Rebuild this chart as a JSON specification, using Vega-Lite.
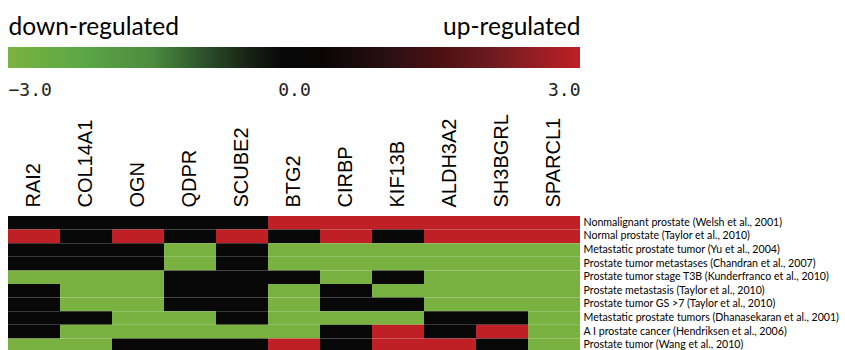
{
  "$schema": "https://vega.github.io/schema/vega-lite/v6.json",
  "padding": {"left": 8, "top": 14, "right": 0, "bottom": 0},
  "background": "white",
  "config": {"view": {"stroke": null}},
  "spacing": 14,
  "vconcat": [
    {
      "width": 572,
      "height": 21,
      "data": {"values": [{"lo": -3, "hi": 3}]},
      "layer": [
        {
          "mark": {
            "type": "rect",
            "fill": {
              "gradient": "linear", "x1": 0, "x2": 1, "y1": 0, "y2": 0,
              "stops": [
                {"offset": 0, "color": "#7BB340"},
                {"offset": 0.12, "color": "#5DA946"},
                {"offset": 0.25, "color": "#4C8C40"},
                {"offset": 0.33, "color": "#30592D"},
                {"offset": 0.41, "color": "#1A2818"},
                {"offset": 0.48, "color": "#080808"},
                {"offset": 0.55, "color": "#0A0505"},
                {"offset": 0.67, "color": "#2B1012"},
                {"offset": 0.75, "color": "#4A1012"},
                {"offset": 0.85, "color": "#6E1C20"},
                {"offset": 1, "color": "#BE2026"}
              ]
            }
          },
          "encoding": {
            "x": {
              "field": "lo", "type": "quantitative",
              "scale": {"domain": [-3, 3], "nice": false, "zero": false},
              "axis": {
                "orient": "bottom", "values": [-3, 0, 3], "format": ".1f",
                "labelFont": "DejaVu Sans Mono", "labelFontSize": 18, "labelColor": "#222222",
                "labelPadding": 13, "ticks": false, "domain": false, "grid": false,
                "labelFlush": true, "title": null
              }
            },
            "x2": {"field": "hi"},
            "y": {"datum": 0, "type": "quantitative", "scale": {"domain": [0, 1], "nice": false}, "axis": null},
            "y2": {"datum": 1}
          }
        },
        {
          "mark": {"type": "rect", "opacity": 0},
          "encoding": {
            "x": {
              "field": "lo", "type": "quantitative",
              "axis": {
                "orient": "top", "values": [-3, 3],
                "labelExpr": "datum.value < 0 ? 'down-regulated' : 'up-regulated'",
                "labelFont": "Lato", "labelFontSize": 24.5, "labelColor": "black",
                "labelPadding": 7.5, "ticks": false, "domain": false, "grid": false,
                "labelFlush": true, "title": null
              }
            },
            "x2": {"field": "hi"},
            "y": {"datum": 0, "type": "quantitative"},
            "y2": {"datum": 1}
          }
        }
      ],
      "resolve": {"axis": {"x": "independent"}}
    },
    {
      "width": 572,
      "height": 136,
      "data": {"values": [
        {"gene": "RAI2", "study": "Nonmalignant prostate (Welsh et al., 2001)", "value": 0},
        {"gene": "COL14A1", "study": "Nonmalignant prostate (Welsh et al., 2001)", "value": 0},
        {"gene": "OGN", "study": "Nonmalignant prostate (Welsh et al., 2001)", "value": 0},
        {"gene": "QDPR", "study": "Nonmalignant prostate (Welsh et al., 2001)", "value": 0},
        {"gene": "SCUBE2", "study": "Nonmalignant prostate (Welsh et al., 2001)", "value": 0},
        {"gene": "BTG2", "study": "Nonmalignant prostate (Welsh et al., 2001)", "value": 3},
        {"gene": "CIRBP", "study": "Nonmalignant prostate (Welsh et al., 2001)", "value": 3},
        {"gene": "KIF13B", "study": "Nonmalignant prostate (Welsh et al., 2001)", "value": 3},
        {"gene": "ALDH3A2", "study": "Nonmalignant prostate (Welsh et al., 2001)", "value": 3},
        {"gene": "SH3BGRL", "study": "Nonmalignant prostate (Welsh et al., 2001)", "value": 3},
        {"gene": "SPARCL1", "study": "Nonmalignant prostate (Welsh et al., 2001)", "value": 3},

        {"gene": "RAI2", "study": "Normal prostate (Taylor et al., 2010)", "value": 3},
        {"gene": "COL14A1", "study": "Normal prostate (Taylor et al., 2010)", "value": 0},
        {"gene": "OGN", "study": "Normal prostate (Taylor et al., 2010)", "value": 3},
        {"gene": "QDPR", "study": "Normal prostate (Taylor et al., 2010)", "value": 0},
        {"gene": "SCUBE2", "study": "Normal prostate (Taylor et al., 2010)", "value": 3},
        {"gene": "BTG2", "study": "Normal prostate (Taylor et al., 2010)", "value": 0},
        {"gene": "CIRBP", "study": "Normal prostate (Taylor et al., 2010)", "value": 3},
        {"gene": "KIF13B", "study": "Normal prostate (Taylor et al., 2010)", "value": 0},
        {"gene": "ALDH3A2", "study": "Normal prostate (Taylor et al., 2010)", "value": 3},
        {"gene": "SH3BGRL", "study": "Normal prostate (Taylor et al., 2010)", "value": 3},
        {"gene": "SPARCL1", "study": "Normal prostate (Taylor et al., 2010)", "value": 3},

        {"gene": "RAI2", "study": "Metastatic prostate tumor (Yu et al., 2004)", "value": 0},
        {"gene": "COL14A1", "study": "Metastatic prostate tumor (Yu et al., 2004)", "value": 0},
        {"gene": "OGN", "study": "Metastatic prostate tumor (Yu et al., 2004)", "value": 0},
        {"gene": "QDPR", "study": "Metastatic prostate tumor (Yu et al., 2004)", "value": -3},
        {"gene": "SCUBE2", "study": "Metastatic prostate tumor (Yu et al., 2004)", "value": 0},
        {"gene": "BTG2", "study": "Metastatic prostate tumor (Yu et al., 2004)", "value": -3},
        {"gene": "CIRBP", "study": "Metastatic prostate tumor (Yu et al., 2004)", "value": -3},
        {"gene": "KIF13B", "study": "Metastatic prostate tumor (Yu et al., 2004)", "value": -3},
        {"gene": "ALDH3A2", "study": "Metastatic prostate tumor (Yu et al., 2004)", "value": -3},
        {"gene": "SH3BGRL", "study": "Metastatic prostate tumor (Yu et al., 2004)", "value": -3},
        {"gene": "SPARCL1", "study": "Metastatic prostate tumor (Yu et al., 2004)", "value": -3},

        {"gene": "RAI2", "study": "Prostate tumor metastases (Chandran et al., 2007)", "value": 0},
        {"gene": "COL14A1", "study": "Prostate tumor metastases (Chandran et al., 2007)", "value": 0},
        {"gene": "OGN", "study": "Prostate tumor metastases (Chandran et al., 2007)", "value": 0},
        {"gene": "QDPR", "study": "Prostate tumor metastases (Chandran et al., 2007)", "value": -3},
        {"gene": "SCUBE2", "study": "Prostate tumor metastases (Chandran et al., 2007)", "value": 0},
        {"gene": "BTG2", "study": "Prostate tumor metastases (Chandran et al., 2007)", "value": -3},
        {"gene": "CIRBP", "study": "Prostate tumor metastases (Chandran et al., 2007)", "value": -3},
        {"gene": "KIF13B", "study": "Prostate tumor metastases (Chandran et al., 2007)", "value": -3},
        {"gene": "ALDH3A2", "study": "Prostate tumor metastases (Chandran et al., 2007)", "value": -3},
        {"gene": "SH3BGRL", "study": "Prostate tumor metastases (Chandran et al., 2007)", "value": -3},
        {"gene": "SPARCL1", "study": "Prostate tumor metastases (Chandran et al., 2007)", "value": -3},

        {"gene": "RAI2", "study": "Prostate tumor stage T3B (Kunderfranco et al., 2010)", "value": -3},
        {"gene": "COL14A1", "study": "Prostate tumor stage T3B (Kunderfranco et al., 2010)", "value": -3},
        {"gene": "OGN", "study": "Prostate tumor stage T3B (Kunderfranco et al., 2010)", "value": -3},
        {"gene": "QDPR", "study": "Prostate tumor stage T3B (Kunderfranco et al., 2010)", "value": 0},
        {"gene": "SCUBE2", "study": "Prostate tumor stage T3B (Kunderfranco et al., 2010)", "value": 0},
        {"gene": "BTG2", "study": "Prostate tumor stage T3B (Kunderfranco et al., 2010)", "value": 0},
        {"gene": "CIRBP", "study": "Prostate tumor stage T3B (Kunderfranco et al., 2010)", "value": -3},
        {"gene": "KIF13B", "study": "Prostate tumor stage T3B (Kunderfranco et al., 2010)", "value": 0},
        {"gene": "ALDH3A2", "study": "Prostate tumor stage T3B (Kunderfranco et al., 2010)", "value": -3},
        {"gene": "SH3BGRL", "study": "Prostate tumor stage T3B (Kunderfranco et al., 2010)", "value": -3},
        {"gene": "SPARCL1", "study": "Prostate tumor stage T3B (Kunderfranco et al., 2010)", "value": -3},

        {"gene": "RAI2", "study": "Prostate metastasis (Taylor et al., 2010)", "value": 0},
        {"gene": "COL14A1", "study": "Prostate metastasis (Taylor et al., 2010)", "value": -3},
        {"gene": "OGN", "study": "Prostate metastasis (Taylor et al., 2010)", "value": -3},
        {"gene": "QDPR", "study": "Prostate metastasis (Taylor et al., 2010)", "value": 0},
        {"gene": "SCUBE2", "study": "Prostate metastasis (Taylor et al., 2010)", "value": 0},
        {"gene": "BTG2", "study": "Prostate metastasis (Taylor et al., 2010)", "value": -3},
        {"gene": "CIRBP", "study": "Prostate metastasis (Taylor et al., 2010)", "value": 0},
        {"gene": "KIF13B", "study": "Prostate metastasis (Taylor et al., 2010)", "value": -3},
        {"gene": "ALDH3A2", "study": "Prostate metastasis (Taylor et al., 2010)", "value": -3},
        {"gene": "SH3BGRL", "study": "Prostate metastasis (Taylor et al., 2010)", "value": -3},
        {"gene": "SPARCL1", "study": "Prostate metastasis (Taylor et al., 2010)", "value": -3},

        {"gene": "RAI2", "study": "Prostate tumor GS >7 (Taylor et al., 2010)", "value": 0},
        {"gene": "COL14A1", "study": "Prostate tumor GS >7 (Taylor et al., 2010)", "value": -3},
        {"gene": "OGN", "study": "Prostate tumor GS >7 (Taylor et al., 2010)", "value": -3},
        {"gene": "QDPR", "study": "Prostate tumor GS >7 (Taylor et al., 2010)", "value": 0},
        {"gene": "SCUBE2", "study": "Prostate tumor GS >7 (Taylor et al., 2010)", "value": 0},
        {"gene": "BTG2", "study": "Prostate tumor GS >7 (Taylor et al., 2010)", "value": -3},
        {"gene": "CIRBP", "study": "Prostate tumor GS >7 (Taylor et al., 2010)", "value": 0},
        {"gene": "KIF13B", "study": "Prostate tumor GS >7 (Taylor et al., 2010)", "value": 0},
        {"gene": "ALDH3A2", "study": "Prostate tumor GS >7 (Taylor et al., 2010)", "value": -3},
        {"gene": "SH3BGRL", "study": "Prostate tumor GS >7 (Taylor et al., 2010)", "value": -3},
        {"gene": "SPARCL1", "study": "Prostate tumor GS >7 (Taylor et al., 2010)", "value": -3},

        {"gene": "RAI2", "study": "Metastatic prostate tumors (Dhanasekaran et al., 2001)", "value": 0},
        {"gene": "COL14A1", "study": "Metastatic prostate tumors (Dhanasekaran et al., 2001)", "value": 0},
        {"gene": "OGN", "study": "Metastatic prostate tumors (Dhanasekaran et al., 2001)", "value": -3},
        {"gene": "QDPR", "study": "Metastatic prostate tumors (Dhanasekaran et al., 2001)", "value": -3},
        {"gene": "SCUBE2", "study": "Metastatic prostate tumors (Dhanasekaran et al., 2001)", "value": 0},
        {"gene": "BTG2", "study": "Metastatic prostate tumors (Dhanasekaran et al., 2001)", "value": -3},
        {"gene": "CIRBP", "study": "Metastatic prostate tumors (Dhanasekaran et al., 2001)", "value": -3},
        {"gene": "KIF13B", "study": "Metastatic prostate tumors (Dhanasekaran et al., 2001)", "value": -3},
        {"gene": "ALDH3A2", "study": "Metastatic prostate tumors (Dhanasekaran et al., 2001)", "value": 0},
        {"gene": "SH3BGRL", "study": "Metastatic prostate tumors (Dhanasekaran et al., 2001)", "value": 0},
        {"gene": "SPARCL1", "study": "Metastatic prostate tumors (Dhanasekaran et al., 2001)", "value": -3},

        {"gene": "RAI2", "study": "A I prostate cancer (Hendriksen et al., 2006)", "value": 0},
        {"gene": "COL14A1", "study": "A I prostate cancer (Hendriksen et al., 2006)", "value": -3},
        {"gene": "OGN", "study": "A I prostate cancer (Hendriksen et al., 2006)", "value": -3},
        {"gene": "QDPR", "study": "A I prostate cancer (Hendriksen et al., 2006)", "value": -3},
        {"gene": "SCUBE2", "study": "A I prostate cancer (Hendriksen et al., 2006)", "value": -3},
        {"gene": "BTG2", "study": "A I prostate cancer (Hendriksen et al., 2006)", "value": -3},
        {"gene": "CIRBP", "study": "A I prostate cancer (Hendriksen et al., 2006)", "value": 0},
        {"gene": "KIF13B", "study": "A I prostate cancer (Hendriksen et al., 2006)", "value": 3},
        {"gene": "ALDH3A2", "study": "A I prostate cancer (Hendriksen et al., 2006)", "value": 0},
        {"gene": "SH3BGRL", "study": "A I prostate cancer (Hendriksen et al., 2006)", "value": 3},
        {"gene": "SPARCL1", "study": "A I prostate cancer (Hendriksen et al., 2006)", "value": -3},

        {"gene": "RAI2", "study": "Prostate tumor (Wang et al., 2010)", "value": -3},
        {"gene": "COL14A1", "study": "Prostate tumor (Wang et al., 2010)", "value": -3},
        {"gene": "OGN", "study": "Prostate tumor (Wang et al., 2010)", "value": 0},
        {"gene": "QDPR", "study": "Prostate tumor (Wang et al., 2010)", "value": 0},
        {"gene": "SCUBE2", "study": "Prostate tumor (Wang et al., 2010)", "value": 0},
        {"gene": "BTG2", "study": "Prostate tumor (Wang et al., 2010)", "value": 3},
        {"gene": "CIRBP", "study": "Prostate tumor (Wang et al., 2010)", "value": 0},
        {"gene": "KIF13B", "study": "Prostate tumor (Wang et al., 2010)", "value": 3},
        {"gene": "ALDH3A2", "study": "Prostate tumor (Wang et al., 2010)", "value": 3},
        {"gene": "SH3BGRL", "study": "Prostate tumor (Wang et al., 2010)", "value": 0},
        {"gene": "SPARCL1", "study": "Prostate tumor (Wang et al., 2010)", "value": -3}
      ]},
      "mark": {"type": "rect"},
      "encoding": {
        "x": {
          "field": "gene", "type": "nominal",
          "sort": ["RAI2", "COL14A1", "OGN", "QDPR", "SCUBE2", "BTG2", "CIRBP", "KIF13B", "ALDH3A2", "SH3BGRL", "SPARCL1"],
          "scale": {"paddingInner": 0, "paddingOuter": 0},
          "axis": {
            "orient": "top", "labelAngle": -90, "labelFont": "Liberation Sans", "labelFontSize": 20,
            "labelColor": "black", "labelPadding": 9, "ticks": false, "domain": false, "title": null
          }
        },
        "y": {
          "field": "study", "type": "nominal",
          "sort": [
            "Nonmalignant prostate (Welsh et al., 2001)",
            "Normal prostate (Taylor et al., 2010)",
            "Metastatic prostate tumor (Yu et al., 2004)",
            "Prostate tumor metastases (Chandran et al., 2007)",
            "Prostate tumor stage T3B (Kunderfranco et al., 2010)",
            "Prostate metastasis (Taylor et al., 2010)",
            "Prostate tumor GS >7 (Taylor et al., 2010)",
            "Metastatic prostate tumors (Dhanasekaran et al., 2001)",
            "A I prostate cancer (Hendriksen et al., 2006)",
            "Prostate tumor (Wang et al., 2010)"
          ],
          "scale": {"paddingInner": 0, "paddingOuter": 0},
          "axis": {
            "orient": "right", "labelFont": "Lato", "labelFontSize": 10.6, "labelColor": "black",
            "labelPadding": 3, "ticks": false, "domain": false, "title": null, "labelLimit": 0
          }
        },
        "color": {
          "field": "value", "type": "quantitative",
          "scale": {"domain": [-3, 0, 3], "range": ["#7AB241", "#080808", "#BE2026"]},
          "legend": null
        }
      }
    }
  ]
}
